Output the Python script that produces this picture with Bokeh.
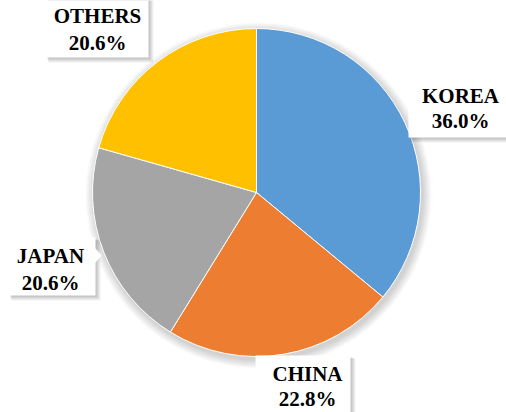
import math
from bokeh.plotting import figure
from bokeh.models import ColumnDataSource
from bokeh.core.properties import value
from bokeh.embed import file_html
from bokeh.resources import INLINE

countries = ["KOREA", "CHINA", "JAPAN", "OTHERS"]
shares = [36.0, 22.8, 20.6, 20.6]
colors = ["#5B9BD5", "#ED7D31", "#A5A5A5", "#FFC000"]

W, H = 506, 412
p = figure(width=W, height=H, x_range=(0, W), y_range=(0, H),
           output_backend="svg", toolbar_location=None, min_border=0)
p.axis.visible = False
p.grid.visible = False
p.outline_line_color = None
p.background_fill_color = "white"

cx, cy, r = 256, 220, 164

# pie shadow
for i in range(9):
    p.circle(x=[cx + 2], y=[cy - 3], radius=r + 9 - i, radius_units="screen",
             fill_color="#000000", fill_alpha=0.018, line_color=None)

total = sum(shares)
starts, ends = [], []
acc = 0.0
for s in shares:
    a0 = math.pi / 2 - 2 * math.pi * acc / total
    acc += s
    a1 = math.pi / 2 - 2 * math.pi * acc / total
    starts.append(a0)
    ends.append(a1)

src = ColumnDataSource(dict(start=starts, end=ends, color=colors))
p.wedge(x=cx, y=cy, radius=r, radius_units="screen", start_angle="start",
        end_angle="end", direction="clock", fill_color="color",
        line_color="white", line_width=1, source=src)

# label layout (plot pixel coords): box left, right, bottom, top, text x, line1 y, line2 y
layout = {
    "KOREA": (408, 512, 275, 329, 460, 317, 292),
    "CHINA": (255, 350, -5, 57, 307, 39, 14),
    "JAPAN": (8, 95, 117, 175, 50, 157, 130),
    "OTHERS": (45, 148, 355, 420, 97, 397, 370),
}

FONT = value("Liberation Serif")

for c, s in zip(countries, shares):
    l, rr, b, t, tx, y1, y2 = layout[c]
    for k in range(5):
        d = 5 - k
        p.quad(left=[l + 1 + d * 0.4], right=[rr + d], bottom=[b - d], top=[t - 1 - d * 0.4],
               fill_color="#000000", fill_alpha=0.05, line_color=None)
    p.quad(left=[l], right=[rr], bottom=[b], top=[t], fill_color="white",
           line_color=None)
    if c == "JAPAN":
        p.patch(x=[rr - 1, rr + 6, rr - 1], y=[t - 10, t - 18, t - 26],
                fill_color="white", line_color=None)
    p.text(x=[tx], y=[y1], text=[c], text_align="center", text_baseline="middle",
           text_font=FONT, text_font_style="bold",
           text_font_size="21px", text_color="black")
    p.text(x=[tx], y=[y2], text=[f"{s:.1f}%"], text_align="center",
           text_baseline="middle", text_font=FONT,
           text_font_style="bold", text_font_size="21px", text_color="black")

open("out.html", "w").write(file_html(p, INLINE))
